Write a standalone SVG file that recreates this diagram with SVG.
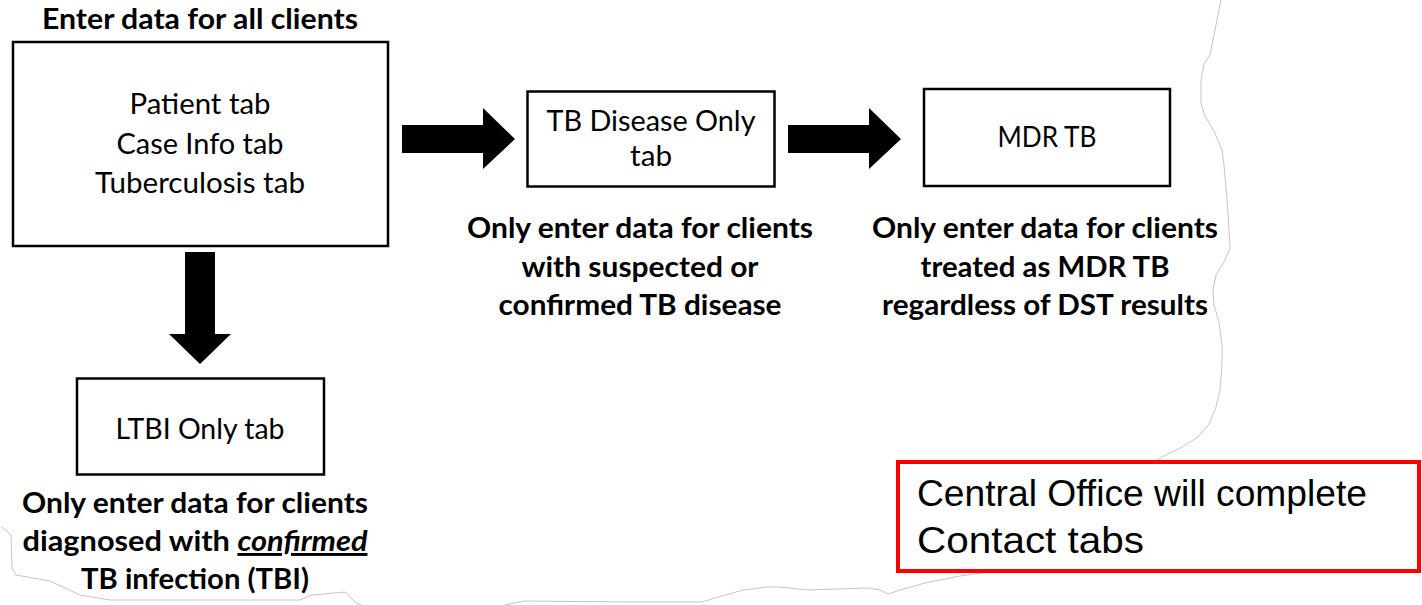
<svg xmlns="http://www.w3.org/2000/svg" width="1422" height="605" viewBox="0 0 1422 605">
  <style>
    .box { fill: #fff; stroke: #000; stroke-width: 2.5; }
    .lbl { font-family: Lato, "Open Sans", sans-serif; font-size: 29px; fill: #000; text-anchor: middle; }
    .note { font-family: Lato, "Open Sans", sans-serif; font-size: 29px; font-weight: bold; fill: #000; text-anchor: middle; }
    .arrow { fill: #000; }
    .edge { fill: none; stroke: #c4c4c4; stroke-width: 1; }
    .callout { fill: #fff; stroke: #ff0000; stroke-width: 4; }
    .callout-text { font-family: "Liberation Sans", Arial, sans-serif; font-size: 36px; fill: #000; }
  </style>

  <rect width="1422" height="605" fill="#fff"/>

  <!-- torn page outline -->
  <g id="page-edge">
    <path class="edge" d="M1221,0 L1214,35 L1210,55 L1204,64 L1201,80 L1201,104 L1205,116 L1214,131 L1222,150 L1224,165 L1227,200 L1229,230 L1230,248 L1224,262 L1216,275 L1213,290 L1214,305 L1219,322 L1222,345 L1222,365 L1220,390 L1216,407 L1209,424 L1198,437 L1182,447 L1162,457 L1148,466 L1135,478 L1120,495 L1100,520 L1082,543 L1062,556 L1030,565 L995,571 L960,576 L925,583 L900,590 L888,594 L880,590 L868,588 L808,590 L780,587 L768,587 L743,590 L722,596 L702,602 L626,602 L525,601 L505,605 L500,607"/>
    <path class="edge" d="M427,606 L364,606 L356,603 L345,592 L312,595 L300,600 L110,600 L80,595 L50,581 L16,575 L12,568 L11,535 L2,527"/>
  </g>

  <!-- connectors -->
  <g id="connectors">
    <polygon class="arrow" points="185,252 215,252 215,334 231,334 200,364 169,334 185,334"/>
    <polygon class="arrow" points="402,125 483,125 483,108 515,139 483,169 483,153 402,153"/>
    <polygon class="arrow" points="788,125 869,125 869,108 901,139 869,169 869,153 788,153"/>
  </g>

  <g id="node-all-clients">
    <text class="note" x="200" y="29" textLength="316" lengthAdjust="spacingAndGlyphs">Enter data for all clients</text>
    <rect class="box" x="13" y="42" width="375" height="204"/>
    <text class="lbl" x="200" y="114" textLength="141" lengthAdjust="spacingAndGlyphs">Patient tab</text>
    <text class="lbl" x="200" y="154" textLength="167" lengthAdjust="spacingAndGlyphs">Case Info tab</text>
    <text class="lbl" x="200" y="193" textLength="210" lengthAdjust="spacingAndGlyphs">Tuberculosis tab</text>
  </g>

  <g id="node-tb-disease">
    <rect class="box" x="527.5" y="91.5" width="247" height="95"/>
    <text class="lbl" x="651" y="131" textLength="209" lengthAdjust="spacingAndGlyphs">TB Disease Only</text>
    <text class="lbl" x="651" y="166" textLength="42" lengthAdjust="spacingAndGlyphs">tab</text>
    <text class="note" x="640" y="238" textLength="346" lengthAdjust="spacingAndGlyphs">Only enter data for clients</text>
    <text class="note" x="640" y="277" textLength="237" lengthAdjust="spacingAndGlyphs">with suspected or</text>
    <text class="note" x="640" y="315" textLength="283" lengthAdjust="spacingAndGlyphs">confirmed TB disease</text>
  </g>

  <g id="node-mdr-tb">
    <rect class="box" x="924" y="89" width="246" height="97"/>
    <text class="lbl" x="1047" y="147" textLength="99" lengthAdjust="spacingAndGlyphs">MDR TB</text>
    <text class="note" x="1045" y="238" textLength="346" lengthAdjust="spacingAndGlyphs">Only enter data for clients</text>
    <text class="note" x="1045" y="277" textLength="249" lengthAdjust="spacingAndGlyphs">treated as MDR TB</text>
    <text class="note" x="1045" y="315" textLength="326" lengthAdjust="spacingAndGlyphs">regardless of DST results</text>
  </g>

  <g id="node-ltbi">
    <rect class="box" x="77" y="378.5" width="247" height="96"/>
    <text class="lbl" x="200" y="439" textLength="169" lengthAdjust="spacingAndGlyphs">LTBI Only tab</text>
    <text class="note" x="195" y="513" textLength="346" lengthAdjust="spacingAndGlyphs">Only enter data for clients</text>
    <text class="note" x="195" y="551" textLength="345" lengthAdjust="spacingAndGlyphs">diagnosed with <tspan font-style="italic" text-decoration="underline">confirmed</tspan></text>
    <text class="note" x="195" y="589" textLength="228" lengthAdjust="spacingAndGlyphs">TB infection (TBI)</text>
  </g>

  <g id="node-central-office">
    <rect class="callout" x="898" y="462" width="521" height="109"/>
    <text class="callout-text" x="917" y="506" textLength="450" lengthAdjust="spacingAndGlyphs">Central Office will complete</text>
    <text class="callout-text" x="917" y="553" textLength="227" lengthAdjust="spacingAndGlyphs">Contact tabs</text>
  </g>
</svg>
